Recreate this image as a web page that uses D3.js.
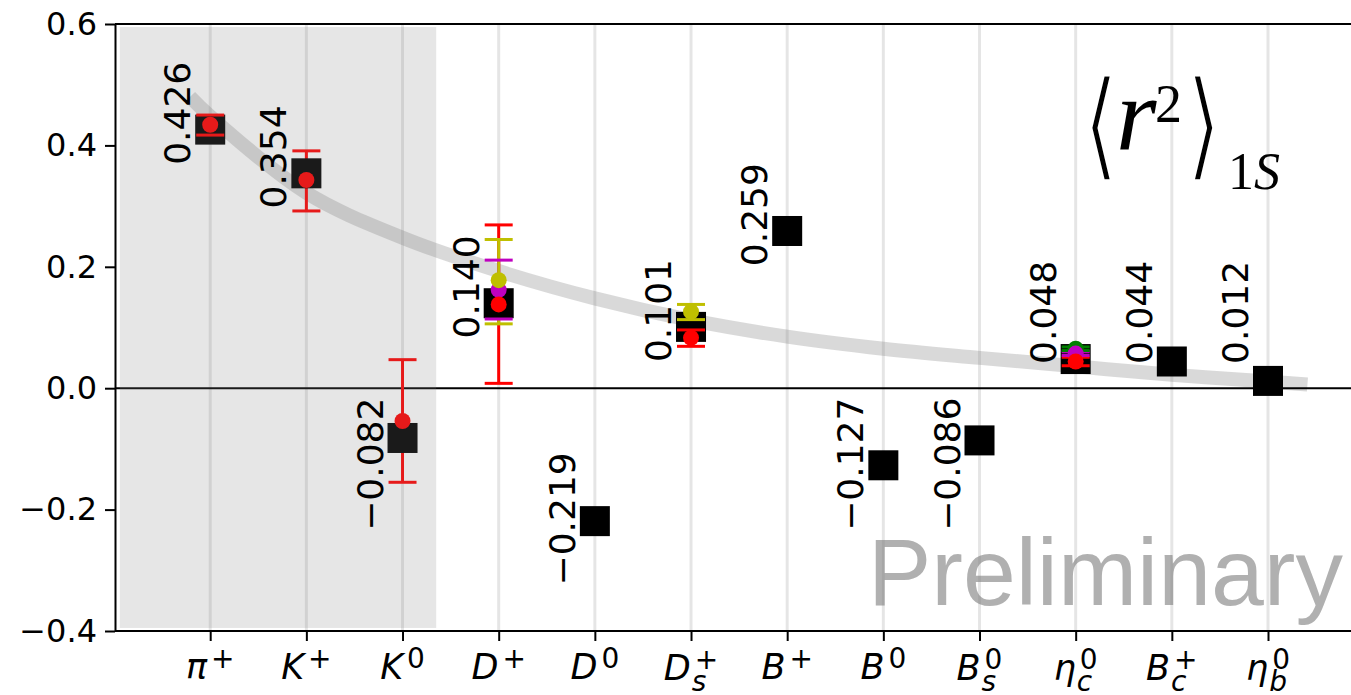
<!DOCTYPE html>
<html>
<head>
<meta charset="utf-8">
<script src="https://cdn.jsdelivr.net/npm/d3@7"></script>
<style>
  body { margin: 0; background: #fff; }
  svg { display: block; }
</style>
</head>
<body>
<svg id="chart" width="1351" height="695"></svg>
<script>
// Global settings
let chartW = 1351
let chartH = 695
let sansFont = "DejaVu Sans"

// Categories, split into base letter / subscript / superscript
const catBase = ["π", "K", "K", "D", "D", "D", "B", "B", "B", "η", "B", "η"]
const catSub  = ["", "", "", "", "", "s", "", "", "s", "c", "c", "b"]
const catSup  = ["+", "+", "0", "+", "0", "+", "+", "0", "0", "0", "+", "0"]

// Black squares: <r^2>_1S
const values = [0.426, 0.354, -0.082, 0.140, -0.219, 0.101, 0.259, -0.127, -0.086, 0.048, 0.044, 0.012]

// Other determinations with error bars (null = not available)
const redVal = [0.434, 0.343, -0.054, 0.138, null, 0.083, null, null, null, 0.044, null, null]
const redLo  = [0.417, 0.292, -0.155, 0.008, null, 0.069, null, null, null, 0.037, null, null]
const redHi  = [0.450, 0.391, 0.047, 0.269, null, 0.096, null, null, null, 0.051, null, null]

const magVal = [null, null, null, 0.162, null, null, null, null, null, 0.057, null, null]
const magLo  = [null, null, null, 0.114, null, null, null, null, null, 0.054, null, null]
const magHi  = [null, null, null, 0.211, null, null, null, null, null, 0.060, null, null]

const yelVal = [null, null, null, 0.178, null, 0.126, null, null, null, null, null, null]
const yelLo  = [null, null, null, 0.106, null, 0.113, null, null, null, null, null, null]
const yelHi  = [null, null, null, 0.245, null, 0.138, null, null, null, null, null, null]

const grnVal = [null, null, null, null, null, null, null, null, null, 0.065, null, null]
const grnLo  = [null, null, null, null, null, null, null, null, null, 0.062, null, null]
const grnHi  = [null, null, null, null, null, null, null, null, null, 0.068, null, null]

// Grey trend curve (category index, value)
const curveIdx = [-0.21, 0, 1, 2, 3, 4, 5, 6, 7, 8, 9, 10, 11, 11.41]
const curveVal = [0.48, 0.448, 0.322, 0.248, 0.193, 0.148, 0.112, 0.085, 0.065, 0.05, 0.036, 0.022, 0.011, 0.006]

const yTicks = [-0.4, -0.2, 0.0, 0.2, 0.4, 0.6]

// series table (drawing order of markers: green, magenta, yellow, red)
function makeSeries(color, val, lo, hi) {
    return val.map((v, i) => ({ i: i, v: v, lo: lo[i], hi: hi[i], color: color }))
              .filter(d => d.v !== null)
}
const series = [
    makeSeries("#008000", grnVal, grnLo, grnHi),
    makeSeries("#bf00bf", magVal, magLo, magHi),
    makeSeries("#bfbf00", yelVal, yelLo, yelHi),
    makeSeries("#ff0000", redVal, redLo, redHi)
]
const barOrder = [series[3], series[1], series[2], series[0]]  // error lines: red, magenta, yellow, green

const svg = d3.select("#chart")
const plotLeft = 115, plotTop = 24, plotBottom = 631

const x = d3.scaleLinear().domain([-0.99, 11]).range([plotLeft, 1268])
const y = d3.scaleLinear().domain([-0.4, 0.6]).range([plotBottom, plotTop])

svg.append("rect").attr("width", chartW).attr("height", chartH).attr("fill", "#fff")

// vertical grid lines at every category
svg.append("g").selectAll("line")
    .data(values)
    .enter()
    .append("line")
    .attr("x1", (d, i) => x(i)).attr("x2", (d, i) => x(i))
    .attr("y1", plotTop).attr("y2", plotBottom)
    .attr("stroke", "#000").attr("stroke-opacity", 0.1).attr("stroke-width", 3)

// trend curve
let trend = d3.line()
    .x(d => x(d[0]))
    .y(d => y(d[1]))
    .curve(d3.curveCatmullRom)
svg.append("path")
    .attr("d", trend(curveIdx.map((c, k) => [c, curveVal[k]])))
    .attr("fill", "none")
    .attr("stroke", "#808080").attr("stroke-opacity", 0.3)
    .attr("stroke-width", 14)

// zero line
svg.append("line")
    .attr("x1", plotLeft).attr("x2", chartW)
    .attr("y1", y(0)).attr("y2", y(0))
    .attr("stroke", "#000").attr("stroke-width", 2)

// error bar lines
let capHalf = 14
barOrder.forEach(s => {
    svg.append("g").selectAll("line")
        .data(s)
        .enter()
        .append("line")
        .attr("x1", d => x(d.i)).attr("x2", d => x(d.i))
        .attr("y1", d => y(d.lo)).attr("y2", d => y(d.hi))
        .attr("stroke", d => d.color).attr("stroke-width", 3)
})

// black squares
let sq = 30
svg.append("g").selectAll("rect")
    .data(values)
    .enter()
    .append("rect")
    .attr("x", (d, i) => x(i) - sq / 2)
    .attr("y", d => y(d) - sq / 2)
    .attr("width", sq).attr("height", sq)
    .attr("fill", "#000")

// caps
barOrder.forEach(s => {
    let g = svg.append("g")
    for (let key of ["lo", "hi"]) {
        g.selectAll("line." + key)
            .data(s)
            .enter()
            .append("line")
            .attr("class", key)
            .attr("x1", d => x(d.i) - capHalf).attr("x2", d => x(d.i) + capHalf)
            .attr("y1", d => y(d[key])).attr("y2", d => y(d[key]))
            .attr("stroke", d => d.color).attr("stroke-width", 3)
    }
})

// circles
series.forEach(s => {
    svg.append("g").selectAll("circle")
        .data(s)
        .enter()
        .append("circle")
        .attr("cx", d => x(d.i)).attr("cy", d => y(d.v))
        .attr("r", 8)
        .attr("fill", d => d.color)
})

// grey shaded region over the light mesons
svg.append("rect")
    .attr("x", x(-0.94)).attr("width", x(2.35) - x(-0.94))
    .attr("y", y(0.595)).attr("height", y(-0.395) - y(0.595))
    .attr("fill", "#808080").attr("fill-opacity", 0.2)

// rotated value labels
let fmt = d3.format(".3f")
svg.append("g").selectAll("text")
    .data(values)
    .enter()
    .append("text")
    .attr("transform", (d, i) => {
        let start = d >= 0 ? Math.max(d - 0.058, 0.04) : Math.min(d - 0.106, -0.235)
        return `translate(${x(i) - 20},${y(start)}) rotate(-90)`
    })
    .attr("font-family", sansFont).attr("font-size", 36)
    .attr("fill", "#000")
    .text(d => fmt(d))

// spines
svg.append("line").attr("x1", plotLeft).attr("x2", chartW).attr("y1", plotTop).attr("y2", plotTop)
    .attr("stroke", "#000").attr("stroke-width", 2)
svg.append("line").attr("x1", plotLeft).attr("x2", chartW).attr("y1", plotBottom).attr("y2", plotBottom)
    .attr("stroke", "#000").attr("stroke-width", 2)

// y axis
let yAxis = svg.append("g")
    .attr("transform", `translate(${plotLeft},0)`)
    .call(d3.axisLeft(y).tickValues(yTicks).tickFormat(d3.format(".1f"))
        .tickSize(10).tickSizeOuter(0).tickPadding(8))
yAxis.select(".domain").attr("stroke-width", 2)
yAxis.selectAll(".tick line").attr("stroke-width", 2)
yAxis.selectAll(".tick text").attr("font-family", sansFont).attr("font-size", 32).attr("fill", "#000")

// x axis ticks
let xAxis = svg.append("g")
    .attr("transform", `translate(0,${plotBottom})`)
    .call(d3.axisBottom(x).tickValues(d3.range(values.length)).tickFormat("")
        .tickSize(10).tickSizeOuter(0))
xAxis.select(".domain").remove()
xAxis.selectAll(".tick line").attr("stroke-width", 2)

// x tick labels: one text each, sub- and superscript stacked with tspans
function measure(str, size, italic) {
    let t = svg.append("text").attr("font-family", sansFont).attr("font-size", size)
        .attr("font-style", italic ? "italic" : "normal").text(str)
    let w = t.node().getComputedTextLength()
    t.remove()
    return w
}
catBase.forEach((b, i) => {
    let base = catSub[i] ? 680 : 679
    let mw = measure(b, 35, true)
    let supW = measure(catSup[i], 28, false)
    let t = svg.append("text")
        .attr("font-family", sansFont).attr("fill", "#000")
    t.append("tspan").attr("font-size", 35).attr("font-style", "italic").text(b)
    let w = mw + 4 + supW
    if (catSub[i]) {
        let subW = measure(catSub[i], 28, true)
        t.append("tspan").attr("font-size", 28).attr("font-style", "italic")
            .attr("dx", 1).attr("dy", 11).text(catSub[i])
        t.append("tspan").attr("font-size", 28)
            .attr("dx", 3 - subW).attr("dy", -22).text(catSup[i])
        w = Math.max(w, mw + 1 + subW)
    } else {
        t.append("tspan").attr("font-size", 28)
            .attr("dx", 4).attr("dy", -11).text(catSup[i])
    }
    t.attr("x", x(i) - w / 2).attr("y", base)
})

// watermark
svg.append("text")
    .attr("x", 1343).attr("y", 605)
    .attr("text-anchor", "end")
    .attr("font-family", "Liberation Sans").attr("font-size", 95)
    .attr("fill", "#808080").attr("fill-opacity", 0.62)
    .text("Preliminary")

// <r^2>_1S label
let lab = svg.append("g").attr("font-family", "Liberation Serif").attr("fill", "#000")
lab.append("text").attr("transform", "translate(1083,165) scale(0.95,1.24)")
    .attr("font-family", "DejaVu Serif").attr("font-size", 96)
    .attr("stroke", "#fff").attr("stroke-width", 2.5)
    .text("⟨")
lab.append("text").attr("x", 1116).attr("y", 150)
    .attr("font-size", 104).attr("font-style", "italic").text("r")
lab.append("text").attr("x", 1155).attr("y", 122)
    .attr("font-size", 54).text("2")
lab.append("text").attr("transform", "translate(1186,165) scale(0.95,1.24)")
    .attr("font-family", "DejaVu Serif").attr("font-size", 96)
    .attr("stroke", "#fff").attr("stroke-width", 2.5)
    .text("⟩")
let sub = lab.append("text").attr("x", 1228).attr("y", 189).attr("font-size", 52)
sub.append("tspan").text("1")
sub.append("tspan").attr("font-style", "italic").text("S")
</script>
</body>
</html>
